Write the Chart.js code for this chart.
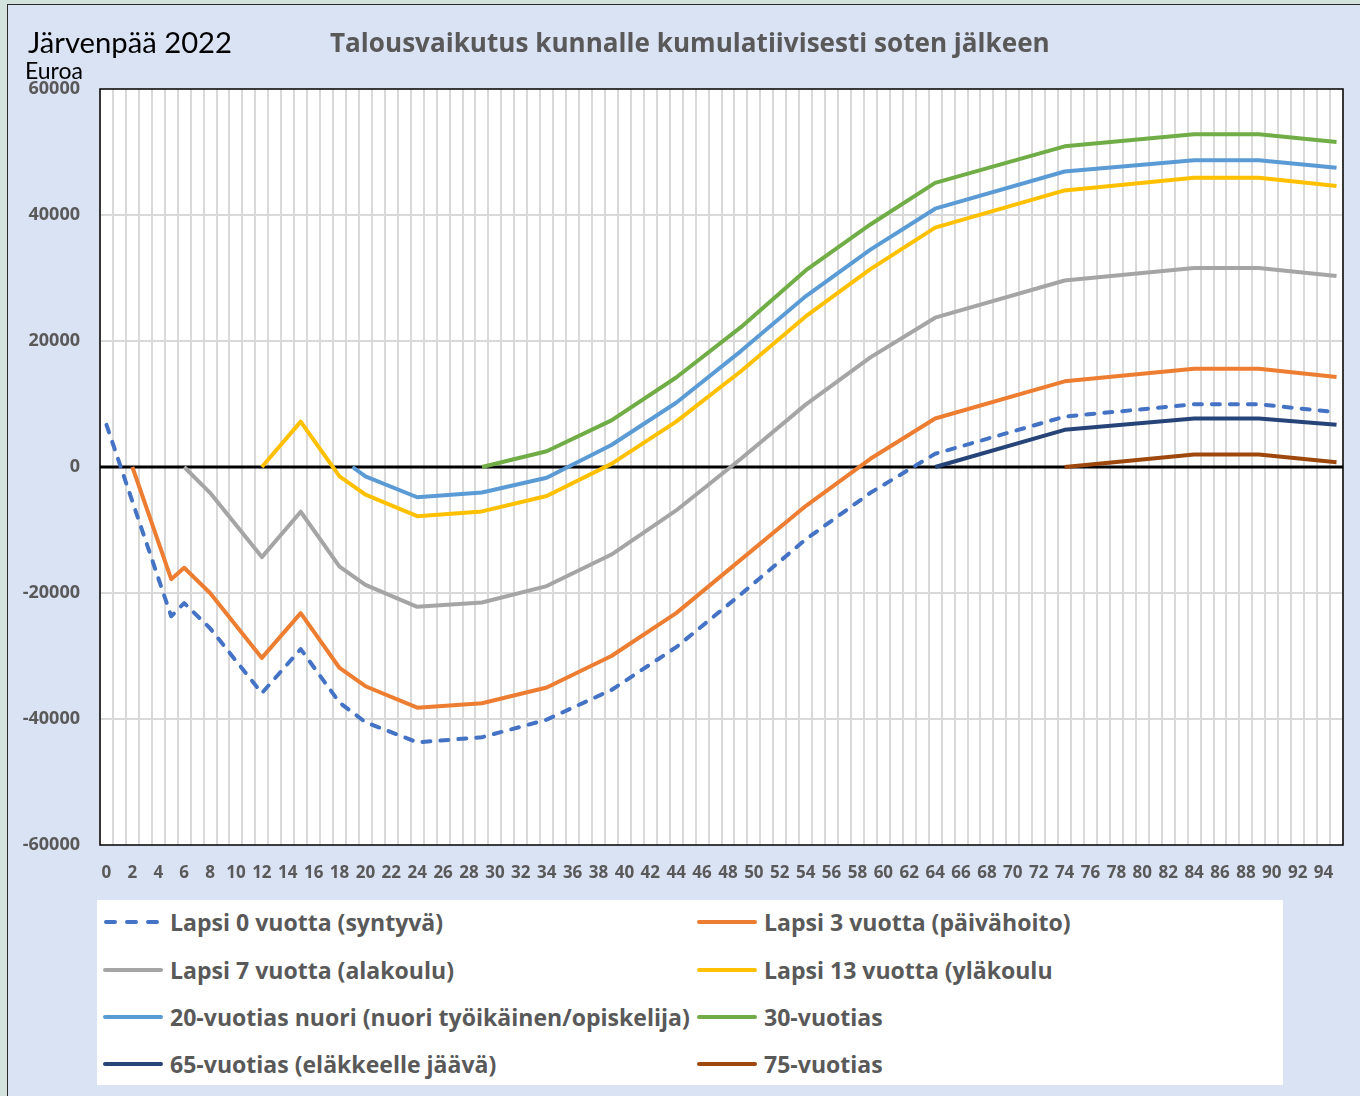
<!DOCTYPE html>
<html>
<head>
<meta charset="utf-8">
<script src="https://cdn.jsdelivr.net/npm/chart.js@4.4.1/dist/chart.umd.min.js"></script>
<style>
  html, body { margin: 0; padding: 0; }
  body { width: 1360px; height: 1096px; background: #d5e3df; overflow: hidden; position: relative; font-family: "Open Sans", Lato, sans-serif; }
  #frame { position: absolute; left: 7px; top: 4px; width: 1360px; height: 1100px; background: #dae3f3; border: 1px solid #2a2a2a; }
  #wrap { position: absolute; left: 0; top: 0; width: 1360px; height: 900px; }
  .txt { position: absolute; white-space: nowrap; display: inline-block; line-height: 1; }
  #t1 { left: 28px; font-size: 28px; color: #000; font-family: Lato, "Open Sans", sans-serif; }
  #t2 { left: 330px; font-size: 24px; font-weight: bold; color: #595959; font-family: "Open Sans", sans-serif; }
  #unit { left: 25px; font-size: 20px; color: #000; font-family: Lato, "Open Sans", sans-serif; }
  #legend { position: absolute; left: 97px; top: 900px; width: 1186px; height: 185px; background: #fff; }
  .item { position: absolute; height: 30px; display: flex; align-items: center; font-weight: bold; color: #595959; white-space: nowrap; font-family: "Open Sans", sans-serif; }
  .mark { width: 60px; height: 0; margin-right: 7px; border-top-width: 4px; border-top-style: solid; border-radius: 2px; }
  .dashmark { width: 60px; height: 6px; margin-right: 7px; }
</style>
</head>
<body>
<div id="frame"></div>
<div id="wrap"><canvas id="c"></canvas></div>
<div id="t1" class="txt">Järvenpää 2022</div>
<div id="t2" class="txt">Talousvaikutus kunnalle kumulatiivisesti soten jälkeen</div>
<div id="unit" class="txt">Euroa</div>
<div id="legend"></div>
<script>
// Categories: age in years
const ages = [0,1,2,3,4,5,6,7,8,9,10,11,12,13,14,15,16,17,18,19,20,21,22,23,24,25,26,27,28,29,
  30,31,32,33,34,35,36,37,38,39,40,41,42,43,44,45,46,47,48,49,50,51,52,53,54,55,56,57,58,59,
  60,61,62,63,64,65,66,67,68,69,70,71,72,73,74,75,76,77,78,79,80,81,82,83,84,85,86,87,88,89,
  90,91,92,93,94,95];

// Y tick values
const yTicks = [-60000, -40000, -20000, 0, 20000, 40000, 60000];

// Series values at the ages where each line has a vertex (age -> euros)
const lapsi0Ages   = [0, 5, 6, 8, 12, 15, 18, 20, 24, 29, 34, 39, 44, 49, 54, 59, 64, 74, 84, 89, 95];
const lapsi0Vals   = [6700, -23700, -21600, -25600, -35900, -28900, -37400, -40500, -43700, -42900, -40100, -35400, -28600, -20200, -11500, -4100, 2100, 8000, 9950, 9950, 8700];

const lapsi3Ages   = [2, 5, 6, 8, 12, 15, 18, 20, 24, 29, 34, 39, 44, 49, 54, 59, 64, 74, 84, 89, 95];
const lapsi3Vals   = [0, -17800, -16000, -20000, -30300, -23200, -31900, -34800, -38200, -37500, -35000, -30000, -23200, -14700, -6200, 1300, 7700, 13600, 15600, 15600, 14300];

const lapsi7Ages   = [6, 8, 12, 15, 18, 20, 24, 29, 34, 39, 44, 49, 54, 59, 64, 74, 84, 89, 95];
const lapsi7Vals   = [0, -4100, -14300, -7100, -15800, -18700, -22200, -21500, -18900, -13900, -6900, 1300, 9900, 17400, 23700, 29600, 31600, 31600, 30300];

const lapsi13Ages  = [12, 15, 18, 20, 24, 29, 34, 39, 44, 49, 54, 59, 64, 74, 84, 89, 95];
const lapsi13Vals  = [0, 7200, -1500, -4400, -7800, -7050, -4600, 500, 7200, 15200, 23900, 31400, 38000, 43900, 45900, 45900, 44600];

const nuori20Ages  = [19, 20, 24, 29, 34, 39, 44, 49, 54, 59, 64, 74, 84, 89, 95];
const nuori20Vals  = [0, -1500, -4800, -4050, -1700, 3500, 10200, 18400, 27100, 34500, 41000, 46900, 48700, 48700, 47500];

const v30Ages      = [29, 34, 39, 44, 49, 54, 59, 64, 74, 84, 89, 95];
const v30Vals      = [0, 2500, 7400, 14200, 22200, 31200, 38500, 45100, 50900, 52800, 52800, 51600];

const v65Ages      = [64, 74, 84, 89, 95];
const v65Vals      = [0, 5900, 7700, 7700, 6700];

const v75Ages      = [74, 84, 89, 95];
const v75Vals      = [0, 2000, 2000, 750];

const seriesLabels = [
  'Lapsi 0 vuotta (syntyvä)',
  'Lapsi 3 vuotta (päivähoito)',
  'Lapsi 7 vuotta (alakoulu)',
  'Lapsi 13 vuotta (yläkoulu',
  '20-vuotias nuori (nuori työikäinen/opiskelija)',
  '30-vuotias',
  '65-vuotias (eläkkeelle jäävä)',
  '75-vuotias'
];
const seriesColors = ['#4472C4', '#ED7D31', '#A5A5A5', '#FFC000', '#5B9BD5', '#70AD47', '#264478', '#9E480E'];
const seriesAges = [lapsi0Ages, lapsi3Ages, lapsi7Ages, lapsi13Ages, nuori20Ages, v30Ages, v65Ages, v75Ages];
const seriesVals = [lapsi0Vals, lapsi3Vals, lapsi7Vals, lapsi13Vals, nuori20Vals, v30Vals, v65Vals, v75Vals];

function toCategoryData(agesList, vals) {
  const out = ages.map(() => null);
  agesList.forEach((a, i) => { out[ages.indexOf(a)] = vals[i]; });
  return out;
}

// Fit a text element's font size to a target width and centre it vertically on a y position
function fitText(el, targetWidth, centerY) {
  const base = parseFloat(getComputedStyle(el).fontSize);
  const w = el.getBoundingClientRect().width;
  const size = base * targetWidth / w;
  el.style.fontSize = size.toFixed(2) + 'px';
  const h = el.getBoundingClientRect().height;
  el.style.top = (centerY - h / 2).toFixed(1) + 'px';
}
fitText(document.getElementById('t1'), 204, 42);
fitText(document.getElementById('t2'), 720, 42);
fitText(document.getElementById('unit'), 58, 70);

const datasets = seriesLabels.map((label, i) => ({
  label,
  data: toCategoryData(seriesAges[i], seriesVals[i]),
  borderColor: seriesColors[i],
  backgroundColor: seriesColors[i],
  borderWidth: 4,
  borderDash: i === 0 ? [8, 10] : [],
  borderCapStyle: i === 0 ? 'round' : 'butt',
  borderJoinStyle: 'round',
  pointRadius: 0,
  pointHoverRadius: 0,
  tension: 0,
  spanGaps: true,
  fill: false
}));

const framePlugin = {
  id: 'framePlugin',
  beforeDraw(chart) {
    const a = chart.chartArea, ctx = chart.ctx;
    ctx.save();
    ctx.fillStyle = '#ffffff';
    ctx.fillRect(a.left, a.top, a.right - a.left, a.bottom - a.top);
    ctx.restore();
  },
  beforeDatasetsDraw(chart) {
    const a = chart.chartArea, ctx = chart.ctx;
    const y0 = chart.scales.y.getPixelForValue(0);
    ctx.save();
    ctx.strokeStyle = '#000';
    ctx.lineWidth = 3;
    ctx.beginPath();
    ctx.moveTo(a.left, y0);
    ctx.lineTo(a.right, y0);
    ctx.stroke();
    ctx.lineWidth = 1.5;
    ctx.strokeRect(a.left, a.top, a.right - a.left, a.bottom - a.top);
    ctx.restore();
  }
};

const xTickFont = { family: '"Open Sans", sans-serif', size: 17, weight: 'bold' };
const yTickFont = { family: '"Open Sans", sans-serif', size: 18, weight: 'bold' };

new Chart(document.getElementById('c'), {
  type: 'line',
  data: { labels: ages.map(String), datasets },
  options: {
    responsive: true,
    maintainAspectRatio: false,
    animation: false,
    events: [],
    layout: { padding: { top: 89, right: 17, left: 0, bottom: 0 } },
    plugins: { legend: { display: false }, tooltip: { enabled: false }, title: { display: false } },
    scales: {
      x: {
        type: 'category',
        offset: true,
        border: { display: false },
        grid: { offset: true, color: '#d9d9d9', lineWidth: 2, drawTicks: false },
        ticks: {
          autoSkip: false, maxRotation: 0, minRotation: 0, padding: 18,
          color: '#595959', font: xTickFont,
          callback: function(v, i) { return ages[i] % 2 === 0 ? String(ages[i]) : ''; }
        },
        afterFit: s => { s.height = 55; }
      },
      y: {
        min: -60000, max: 60000,
        border: { display: false },
        afterBuildTicks: s => { s.ticks = yTicks.map(v => ({ value: v })); },
        grid: {
          drawTicks: false, lineWidth: 2,
          color: ctx => (ctx.tick && (ctx.tick.value === 0 || Math.abs(ctx.tick.value) === 60000)) ? 'rgba(0,0,0,0)' : '#d9d9d9'
        },
        ticks: { padding: 20, color: '#595959', font: yTickFont, callback: v => String(v) },
        afterFit: s => { s.width = 100; }
      }
    }
  },
  plugins: [framePlugin]
});

// HTML legend, two columns, built from the series definitions
const legend = document.getElementById('legend');
const rowCenters = [22, 70, 117, 164];
const colLefts = [6, 600];
const items = [];
seriesLabels.forEach((label, i) => {
  const item = document.createElement('div');
  item.className = 'item';
  item.style.left = colLefts[i % 2] + 'px';
  item.style.top = (rowCenters[Math.floor(i / 2)] - 15) + 'px';
  let mark;
  if (i === 0) {
    mark = document.createElement('canvas');
    mark.width = 60; mark.height = 6;
    mark.className = 'dashmark';
    const mc = mark.getContext('2d');
    mc.strokeStyle = seriesColors[i]; mc.lineWidth = 4; mc.lineCap = 'round';
    mc.setLineDash([9, 12]);
    mc.beginPath(); mc.moveTo(3, 3); mc.lineTo(60, 3); mc.stroke();
  } else {
    mark = document.createElement('div');
    mark.className = 'mark';
    mark.style.borderTopColor = seriesColors[i];
  }
  const txt = document.createElement('span');
  txt.textContent = label;
  txt.style.fontSize = '22px';
  item.appendChild(mark);
  item.appendChild(txt);
  legend.appendChild(item);
  items.push(txt);
});
// size legend text so the longest label spans the same width as in the original
const longest = items[4];
const lsize = 22 * 520 / longest.getBoundingClientRect().width;
items.forEach(t => { t.style.fontSize = lsize.toFixed(2) + 'px'; });
</script>
</body>
</html>
